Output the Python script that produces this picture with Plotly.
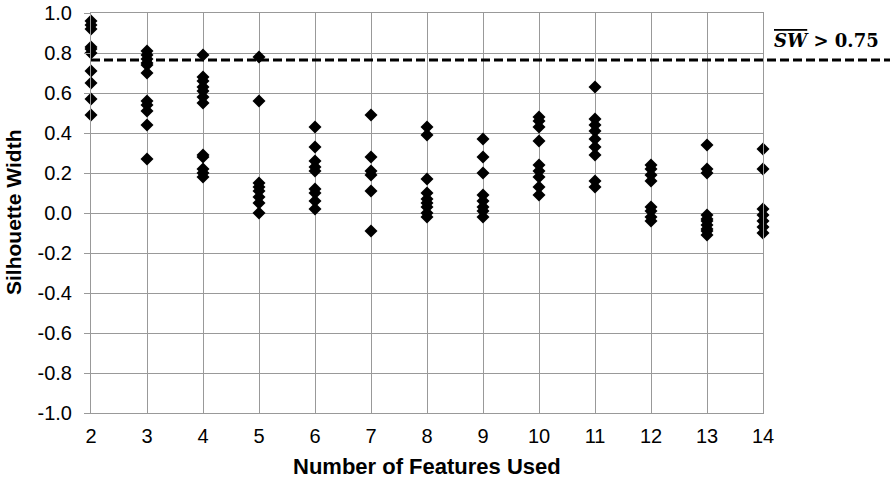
import plotly.graph_objects as go

features = [2, 3, 4, 5, 6, 7, 8, 9, 10, 11, 12, 13, 14]
silhouette = {
    2: [0.96, 0.94, 0.92, 0.83, 0.82, 0.80, 0.71, 0.65, 0.57, 0.49],
    3: [0.81, 0.79, 0.77, 0.75, 0.74, 0.70, 0.56, 0.54, 0.51, 0.44, 0.27],
    4: [0.79, 0.68, 0.66, 0.63, 0.61, 0.58, 0.55, 0.29, 0.28, 0.22, 0.20, 0.18],
    5: [0.78, 0.56, 0.15, 0.13, 0.11, 0.08, 0.05, 0.00],
    6: [0.43, 0.33, 0.26, 0.23, 0.21, 0.12, 0.10, 0.06, 0.02],
    7: [0.49, 0.28, 0.21, 0.19, 0.11, -0.09],
    8: [0.43, 0.39, 0.17, 0.10, 0.07, 0.05, 0.03, 0.00, -0.02],
    9: [0.37, 0.28, 0.20, 0.09, 0.06, 0.03, 0.01, -0.02],
    10: [0.48, 0.46, 0.43, 0.36, 0.24, 0.21, 0.18, 0.13, 0.09],
    11: [0.63, 0.47, 0.44, 0.41, 0.37, 0.33, 0.29, 0.16, 0.13],
    12: [0.24, 0.22, 0.19, 0.16, 0.03, 0.01, -0.02, -0.04],
    13: [0.34, 0.22, 0.20, -0.01, -0.03, -0.04, -0.06, -0.08, -0.09, -0.11],
    14: [0.32, 0.22, 0.02, -0.01, -0.04, -0.07, -0.10],
}
threshold_line = 0.765
y_ticks = [1.0, 0.8, 0.6, 0.4, 0.2, 0.0, -0.2, -0.4, -0.6, -0.8, -1.0]
y_tick_labels = ["1.0", "0.8", "0.6", "0.4", "0.2", "0.0", "-0.2", "-0.4", "-0.6", "-0.8", "-1.0"]

xs, ys = [], []
for f in features:
    for v in silhouette[f]:
        xs.append(f)
        ys.append(v)

GRID = "#999999"
fig = go.Figure()
fig.add_trace(go.Scatter(
    x=xs, y=ys, mode="markers",
    marker=dict(symbol="diamond", size=10, color="black", line=dict(width=0)),
    showlegend=False, cliponaxis=False,
))

fig.add_shape(type="line", xref="paper", yref="y", x0=0, x1=(890 - 91) / 672,
              y0=threshold_line, y1=threshold_line,
              line=dict(color="black", width=2.8, dash="9px,4px"), layer="above")

fig.add_annotation(xref="paper", yref="paper", x=(826 - 91) / 672, y=(413 - 40) / 400,
                   text="<b><i><span style='text-decoration:overline'>SW</span></i> &gt; 0.75</b>",
                   showarrow=False, font=dict(family="DejaVu Serif", size=18, color="black"),
                   xanchor="center", yanchor="middle")

fig.add_annotation(xref="paper", yref="paper", x=(13 - 91) / 672, y=0.5,
                   text="<b>Silhouette Width</b>", textangle=-90, showarrow=False,
                   font=dict(family="Liberation Sans", size=21, color="black"),
                   xanchor="center", yanchor="middle")

fig.add_annotation(xref="paper", yref="paper", x=0.5, y=(413 - 466) / 400,
                   text="<b>Number of Features Used</b>", showarrow=False,
                   font=dict(family="Liberation Sans", size=22, color="black"),
                   xanchor="center", yanchor="middle")

fig.update_layout(
    template="none",
    width=890, height=480,
    margin=dict(l=91, r=127, t=13, b=67),
    paper_bgcolor="white", plot_bgcolor="white",
    font=dict(family="Liberation Sans", size=20, color="black"),
    xaxis=dict(
        range=[2, 14], tickmode="array", tickvals=features,
        ticktext=[str(f) for f in features], automargin=False,
        showgrid=True, gridcolor=GRID, gridwidth=1,
        showline=True, linecolor=GRID, linewidth=1, mirror=True,
        zeroline=False, ticks="", ticklabelstandoff=5,
    ),
    yaxis=dict(
        range=[-1, 1], tickmode="array", tickvals=y_ticks, ticktext=y_tick_labels,
        automargin=False,
        showgrid=True, gridcolor=GRID, gridwidth=1,
        showline=True, linecolor=GRID, linewidth=1, mirror=True,
        zeroline=False, ticks="outside", ticklen=6, tickcolor=GRID,
        ticklabelstandoff=8,
    ),
)

fig.write_html("out.html")
